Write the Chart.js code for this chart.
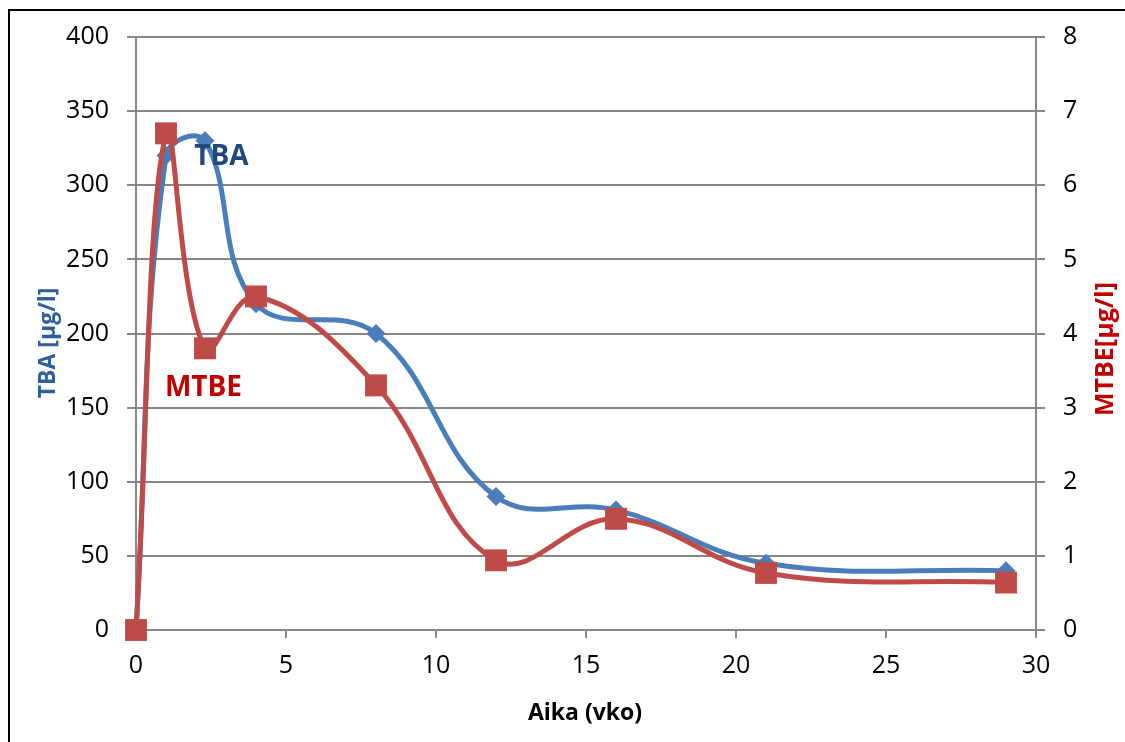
<!DOCTYPE html>
<html>
<head>
<meta charset="utf-8">
<title>TBA ja MTBE</title>
<script src="https://cdn.jsdelivr.net/npm/chart.js@4.4.1/dist/chart.umd.min.js"></script>
<style>
  html, body { margin: 0; padding: 0; background: #fff; }
  #wrap { width: 1125px; height: 742px; }
</style>
</head>
<body>
<div id="wrap"><canvas id="chart" width="1125" height="742"></canvas></div>
<script>
// Aika viikkoina ja pitoisuudet (luettu kuvasta)
const weeks = [0, 1, 2.3, 4, 8, 12, 16, 21, 29];
const tbaValues = [0, 320, 330, 220, 200, 90, 81, 45, 40];
const mtbeValues = [0, 6.7, 3.8, 4.5, 3.3, 0.94, 1.5, 0.77, 0.64];

const xTicks = [0, 5, 10, 15, 20, 25, 30];
const tbaTicks = [0, 50, 100, 150, 200, 250, 300, 350, 400];
const mtbeTicks = [0, 1, 2, 3, 4, 5, 6, 7, 8];

const gridGray = '#878787';
const tickFont = { family: 'Open Sans', size: 25 };

function points(xs, ys) {
    return xs.map((x, i) => ({ x: x, y: ys[i] }));
}

// Otsikot ja sarjojen nimet piirretään itse
const labelsPlugin = {
    id: 'labels',
    beforeDraw(chart) {
        const ctx = chart.ctx;
        ctx.save();
        ctx.fillStyle = '#fff';
        ctx.fillRect(0, 0, chart.width, chart.height);
        ctx.strokeStyle = '#000';
        ctx.lineWidth = 2;
        ctx.strokeRect(9, 10, chart.width + 20, chart.height + 20);
        ctx.restore();
    },
    afterDraw(chart) {
        const ctx = chart.ctx;
        const x = chart.scales.x, y = chart.scales.y, y1 = chart.scales.y1;
        ctx.save();
        ctx.textAlign = 'center';
        ctx.textBaseline = 'middle';

        ctx.font = 'bold 23px "Open Sans"';
        ctx.fillStyle = '#000';
        ctx.fillText('Aika (vko)', (chart.chartArea.left + chart.chartArea.right) / 2 - 1, 713);

        ctx.save();
        ctx.translate(48, 343);
        ctx.rotate(-Math.PI / 2);
        ctx.font = 'bold 23px "Open Sans"';
        ctx.fillStyle = '#2F5F9E';
        ctx.fillText('TBA [µg/l]', 0, 0);
        ctx.restore();

        ctx.save();
        ctx.translate(1106, 349);
        ctx.rotate(-Math.PI / 2);
        ctx.font = 'bold 25px "Open Sans"';
        ctx.fillStyle = '#C00000';
        ctx.fillText('MTBE[µg/l]', 0, 0);
        ctx.restore();

        ctx.font = 'bold 28px "Open Sans"';
        ctx.fillStyle = '#1F497D';
        ctx.fillText('TBA', x.getPixelForValue(2.85), y.getPixelForValue(319));
        ctx.fillStyle = '#C00000';
        ctx.fillText('MTBE', x.getPixelForValue(2.25), y1.getPixelForValue(3.27));
        ctx.restore();
    }
};

new Chart(document.getElementById('chart'), {
    type: 'scatter',
    data: {
        datasets: [{
            label: 'MTBE',
            data: points(weeks, mtbeValues),
            yAxisID: 'y1',
            showLine: true,
            clip: false,
            borderColor: '#BE4B48',
            backgroundColor: '#BE4B48',
            borderWidth: 5,
            tension: 0.4,
            pointStyle: 'rect',
            pointRadius: 15.5,
            pointBorderWidth: 0,
            order: 0
        }, {
            label: 'TBA',
            data: points(weeks, tbaValues),
            yAxisID: 'y',
            showLine: true,
            clip: false,
            borderColor: '#4A7EBB',
            backgroundColor: '#4A7EBB',
            borderWidth: 5,
            tension: 0.4,
            pointStyle: 'rectRot',
            pointRadius: 9.5,
            pointBorderWidth: 0,
            order: 1
        }]
    },
    options: {
        responsive: false,
        animation: false,
        layout: { padding: { top: 37, left: 0, right: 0, bottom: 0 } },
        plugins: {
            legend: { display: false },
            tooltip: { enabled: false }
        },
        scales: {
            x: {
                type: 'linear',
                min: 0,
                max: 30,
                afterBuildTicks: (s) => { s.ticks = xTicks.map(v => ({ value: v })); },
                afterFit: (s) => { s.height = 112; },
                ticks: { font: tickFont, color: '#000', padding: 13 },
                grid: { drawOnChartArea: false, color: gridGray, tickColor: gridGray, lineWidth: 2, tickLength: 8 },
                border: { color: gridGray, width: 2 }
            },
            y: {
                position: 'left',
                min: 0,
                max: 400,
                afterBuildTicks: (s) => { s.ticks = tbaTicks.map(v => ({ value: v })); },
                afterFit: (s) => { s.width = 136; },
                ticks: { font: tickFont, color: '#000', padding: 18 },
                grid: { color: gridGray, tickColor: gridGray, lineWidth: 2, tickLength: 9 },
                border: { color: gridGray, width: 2 }
            },
            y1: {
                position: 'right',
                min: 0,
                max: 8,
                afterBuildTicks: (s) => { s.ticks = mtbeTicks.map(v => ({ value: v })); },
                afterFit: (s) => { s.width = 89; },
                ticks: { font: tickFont, color: '#000', padding: 18 },
                grid: { drawOnChartArea: false, color: gridGray, tickColor: gridGray, lineWidth: 2, tickLength: 9 },
                border: { color: gridGray, width: 2 }
            }
        }
    },
    plugins: [labelsPlugin]
});
</script>
</body>
</html>
